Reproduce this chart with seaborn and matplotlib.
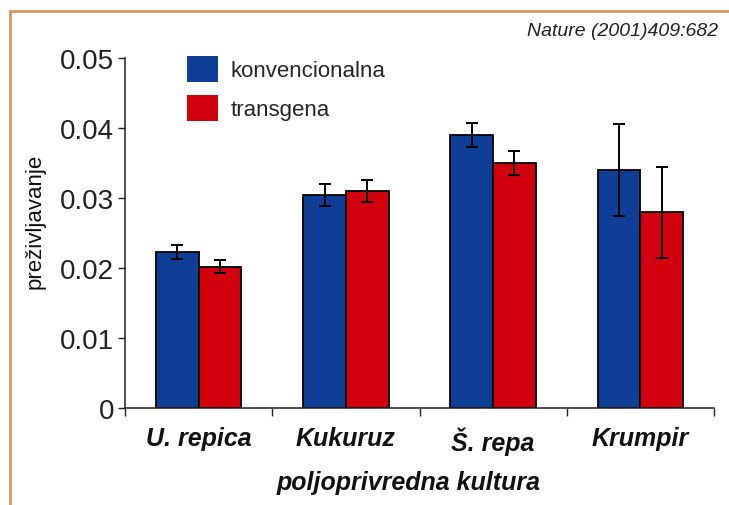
import matplotlib
matplotlib.use("Agg")
import matplotlib.pyplot as plt
import matplotlib.patches as mpatches
import numpy as np
import pandas as pd
import seaborn as sns

# ---- data ----
crops = ["U. repica", "Kukuruz", "Š. repa", "Krumpir"]
groups = ["konvencionalna", "transgena"]
conv_vals = [0.0223, 0.0304, 0.0390, 0.0340]
trans_vals = [0.0202, 0.0310, 0.0350, 0.0280]
conv_err = [0.0010, 0.0016, 0.0017, 0.0066]
trans_err = [0.0009, 0.0016, 0.0017, 0.0065]

colors = {"konvencionalna": "#0E3E95", "transgena": "#D2000F"}

df = pd.DataFrame({
    "kultura": crops * 2,
    "grupa": [groups[0]] * 4 + [groups[1]] * 4,
    "val": conv_vals + trans_vals,
    "err": conv_err + trans_err,
})

sns.set_theme(style="white")
plt.rcParams["font.family"] = ["Liberation Sans", "DejaVu Sans"]

fig = plt.figure(figsize=(7.29, 5.06), dpi=100)
fig.patch.set_facecolor("white")
ax = fig.add_axes([125 / 729, 1 - 409 / 506, 589 / 729, 350 / 506])

sns.barplot(data=df, x="kultura", y="val", hue="grupa", order=crops,
            hue_order=groups, palette=colors, width=0.58, gap=0,
            errorbar=None, edgecolor="black", linewidth=1.3,
            saturation=1, ax=ax)

# error bars at the centres of the drawn bars
bars = [p for p in ax.patches if p.get_height() > 0][:8]
errs = conv_err + trans_err
for p, e in zip(bars, errs):
    ax.errorbar(p.get_x() + p.get_width() / 2, p.get_height(), yerr=e,
                fmt="none", ecolor="black", elinewidth=1.4, capsize=4.5,
                capthick=1.4, zorder=5)

ax.set_xlim(-0.5, 3.5)
ax.set_ylim(0, 0.05)
ax.set_yticks([0, 0.01, 0.02, 0.03, 0.04, 0.05])
ax.set_yticklabels(["0", "0.01", "0.02", "0.03", "0.04", "0.05"])
ax.tick_params(axis="y", which="major", left=True, length=5, width=1,
               direction="out", labelsize=20, pad=3, colors="#222222")
ax.set_xticks(np.arange(-0.5, 3.6, 1.0), minor=True)
ax.tick_params(axis="x", which="minor", bottom=True, length=6, width=1,
               direction="out", color="#222222")
ax.tick_params(axis="x", which="major", length=0, pad=13)
for lab in ax.get_xticklabels():
    lab.set_fontsize(18)
    lab.set_fontweight("bold")
    lab.set_fontstyle("italic")
    lab.set_color("#111111")

sns.despine(ax=ax)
for s in ("left", "bottom"):
    ax.spines[s].set_color("#222222")
    ax.spines[s].set_linewidth(1.1)
ax.grid(False)

ax.set_ylabel("preživljavanje", fontsize=16, color="#111111")
ax.yaxis.set_label_coords(-0.135, 0.535)
ax.set_xlabel("poljoprivredna kultura", fontsize=18, fontweight="bold",
              fontstyle="italic", color="#111111")
ax.xaxis.set_label_coords(0.482, -0.178)

handles = [mpatches.Patch(facecolor=colors[g], edgecolor="none") for g in groups]
ax.legend(handles, groups, loc="upper left", bbox_to_anchor=(0.105, 1.005),
          frameon=False, fontsize=16, handlelength=1.4, handleheight=1.4,
          handletextpad=0.55, labelspacing=0.6, borderpad=0, borderaxespad=0)

fig.text(0.985, 1 - 32 / 506, "Nature (2001)409:682", ha="right", va="center",
         fontsize=14, fontstyle="italic", color="#222222")

# orange frame (left and top edges visible in the reference)
frame = mpatches.Rectangle((10 / 729, -0.05), 1.2, 1 - 12 / 506 + 0.05,
                           transform=fig.transFigure, fill=False,
                           edgecolor="#E0955A", linewidth=2, clip_on=False)
fig.patches.append(frame)

fig.savefig("out.png", dpi=100)
